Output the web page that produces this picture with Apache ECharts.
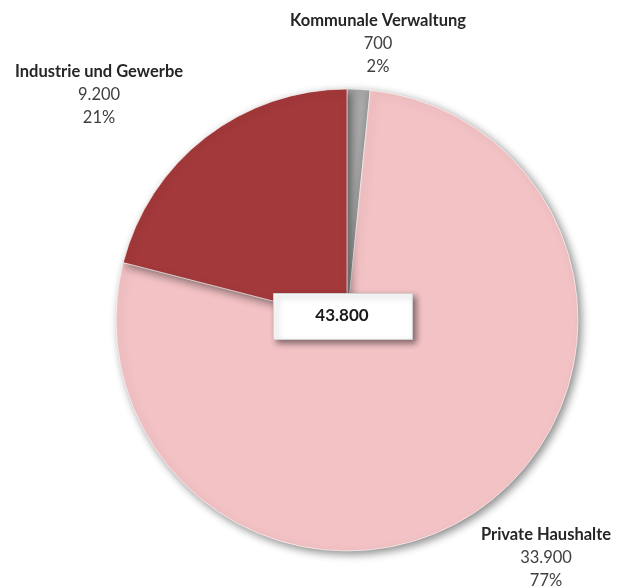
<!DOCTYPE html>
<html>
<head>
<meta charset="utf-8">
<script src="https://cdn.jsdelivr.net/npm/echarts@6/dist/echarts.min.js"></script>
<style>html,body{margin:0;padding:0;background:#fff}#c{width:630px;height:588px}</style>
</head>
<body>
<div id="c"></div>
<script>
const categories = ['Kommunale Verwaltung', 'Private Haushalte', 'Industrie und Gewerbe'];
const values = [700, 33900, 9200];
const colors = ['#a8a8a8', '#f3c2c5', '#a3393a'];
const labelSpots = [[378, 44], [546, 558], [99, 95]];

const total = values.reduce((a, b) => a + b, 0);
const fmt = n => String(n).replace(/\B(?=(\d{3})+(?!\d))/g, '.');

const chart = echarts.init(document.getElementById('c'), null, {renderer: 'canvas'});
chart.setOption({
  animation: false,
  backgroundColor: '#ffffff',
  series: [{
    type: 'pie',
    center: [347, 320],
    radius: 231,
    startAngle: 90,
    clockwise: true,
    data: categories.map((c, i) => ({name: c, value: values[i], itemStyle: {color: colors[i]}})),
    itemStyle: {
      borderColor: 'rgba(255,255,255,0.6)',
      borderWidth: 1,
      shadowBlur: 8,
      shadowOffsetX: 3,
      shadowOffsetY: 3,
      shadowColor: 'rgba(0,0,0,0.45)'
    },
    label: {
      show: true,
      position: 'outside',
      overflow: 'none',
      width: 300,
      formatter: p => '{b|' + p.name + '}\n{v|' + fmt(p.value) + '}\n{v|' + Math.round(p.value / total * 100) + '%}',
      rich: {
        b: {fontFamily: 'Lato', fontWeight: 'bold', fontSize: 16.5, color: '#262626', lineHeight: 23, align: 'center'},
        v: {fontFamily: 'Lato', fontSize: 16.5, color: '#404040', lineHeight: 23, align: 'center'}
      }
    },
    labelLine: {show: false},
    labelLayout: p => ({
      x: labelSpots[p.dataIndex][0],
      y: labelSpots[p.dataIndex][1],
      align: 'center',
      verticalAlign: 'middle'
    }),
    emphasis: {disabled: true}
  }],
  graphic: [{
    type: 'rect',
    z: 100,
    left: 273,
    top: 293,
    shape: {x: 0, y: 0, width: 139, height: 46},
    style: {
      fill: '#ffffff',
      stroke: '#d0d0d0',
      lineWidth: 1,
      shadowBlur: 6,
      shadowOffsetX: 3,
      shadowOffsetY: 3,
      shadowColor: 'rgba(0,0,0,0.45)'
    }
  }, {
    type: 'text',
    z: 101,
    x: 342,
    y: 316,
    style: {
      text: fmt(total),
      fontFamily: 'Lato',
      fontWeight: 'bold',
      fontSize: 17,
      fill: '#1a1a1a',
      align: 'center',
      verticalAlign: 'middle'
    }
  }]
});
</script>
</body>
</html>
